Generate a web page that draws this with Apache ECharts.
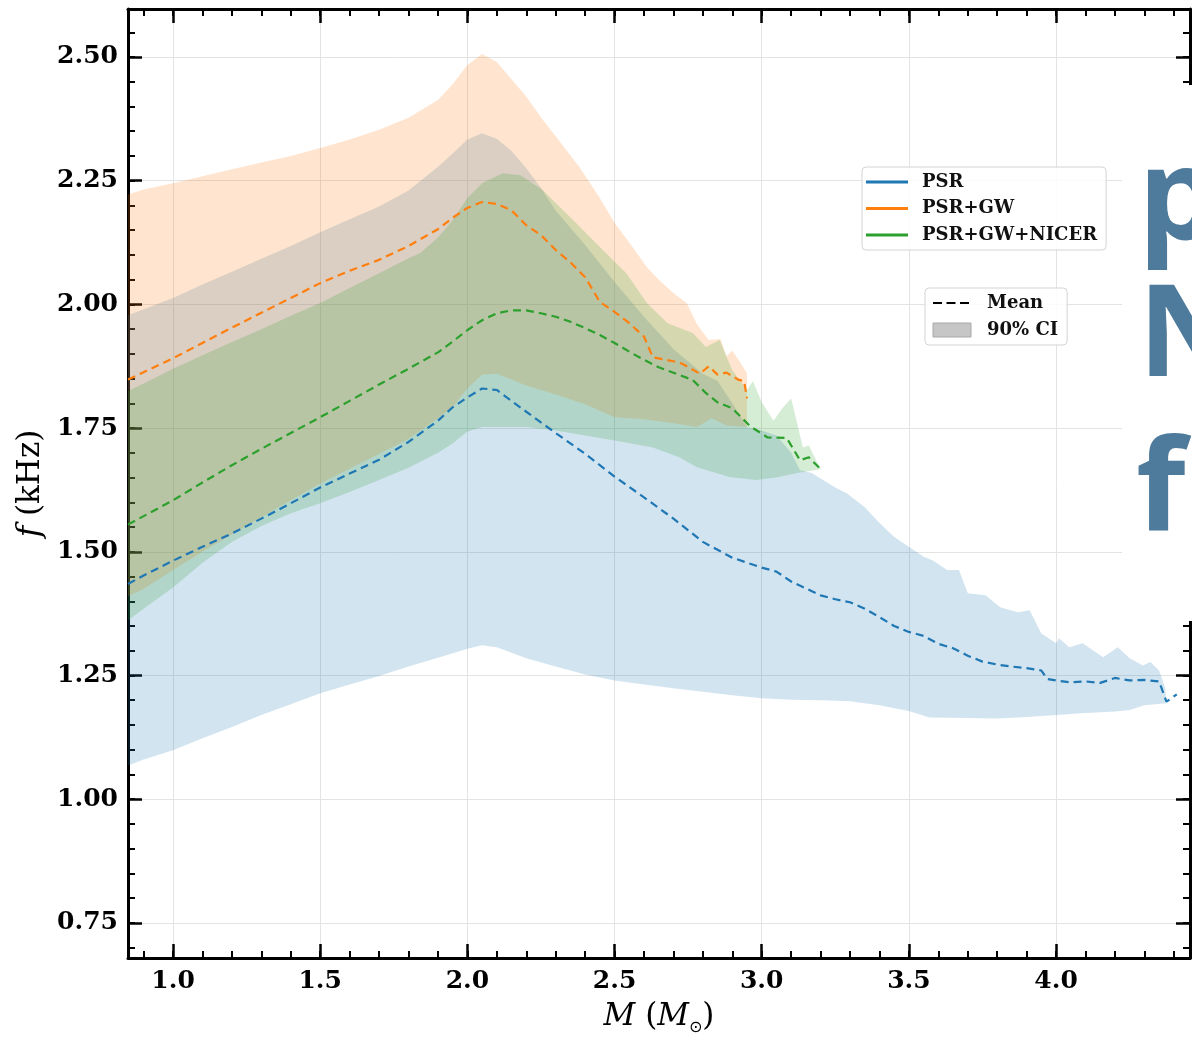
<!DOCTYPE html>
<html><head><meta charset="utf-8">
<script src="https://cdn.jsdelivr.net/npm/echarts@6/dist/echarts.min.js"></script>
<style>html,body{margin:0;padding:0;background:#fff}#c{width:1192px;height:1041px}</style>
</head><body><div id="c"></div><script>
// ---- data ----
const xMajorTicks = [1.0, 1.5, 2.0, 2.5, 3.0, 3.5, 4.0];
const yMajorTicks = [0.75, 1.00, 1.25, 1.50, 1.75, 2.00, 2.25, 2.50];
const xMinorStep = 0.1, yMinorStep = 0.05;
const xRange = [0.847, 4.455];
const yRange = [0.679, 2.597];
const seriesNames = ['PSR', 'PSR+GW', 'PSR+GW+NICER'];
const styleNames = ['Mean', '90% CI'];
const sideLetters = ['p', 'N', 'f'];

const psrMean = [[0.847,1.435],[0.9,1.452],[1.0,1.482],[1.1,1.510],[1.2,1.537],[1.3,1.567],[1.4,1.598],[1.5,1.630],[1.6,1.658],[1.7,1.686],[1.8,1.722],[1.9,1.765],[1.95,1.792],[2.0,1.812],[2.05,1.830],[2.1,1.827],[2.15,1.805],[2.2,1.783],[2.3,1.740],[2.4,1.698],[2.5,1.652],[2.6,1.610],[2.7,1.567],[2.8,1.520],[2.9,1.488],[3.0,1.468],[3.05,1.460],[3.1,1.440],[3.2,1.412],[3.25,1.404],[3.3,1.398],[3.35,1.385],[3.4,1.368],[3.45,1.350],[3.5,1.338],[3.55,1.330],[3.6,1.314],[3.65,1.305],[3.7,1.290],[3.75,1.278],[3.8,1.272],[3.85,1.268],[3.9,1.265],[3.95,1.260],[3.97,1.243],[4.0,1.240],[4.05,1.236],[4.1,1.238],[4.15,1.235],[4.2,1.245],[4.25,1.240],[4.3,1.241],[4.35,1.238],[4.375,1.197],[4.41,1.212]];
const psrUpper = [[0.847,1.978],[0.9,1.990],[1.0,2.013],[1.1,2.040],[1.2,2.066],[1.3,2.092],[1.4,2.118],[1.5,2.146],[1.6,2.172],[1.7,2.198],[1.8,2.230],[1.9,2.278],[1.95,2.305],[2.0,2.333],[2.05,2.346],[2.1,2.335],[2.15,2.310],[2.2,2.275],[2.25,2.235],[2.3,2.190],[2.4,2.120],[2.5,2.045],[2.6,1.975],[2.7,1.910],[2.8,1.860],[2.85,1.845],[2.9,1.800],[2.95,1.752],[3.0,1.745],[3.05,1.735],[3.1,1.700],[3.13,1.665],[3.17,1.659],[3.2,1.648],[3.25,1.630],[3.29,1.618],[3.35,1.590],[3.4,1.558],[3.45,1.530],[3.5,1.510],[3.55,1.490],[3.58,1.483],[3.63,1.463],[3.67,1.463],[3.7,1.416],[3.76,1.412],[3.81,1.388],[3.87,1.378],[3.91,1.382],[3.95,1.335],[4.0,1.315],[4.01,1.325],[4.045,1.307],[4.09,1.315],[4.16,1.287],[4.21,1.307],[4.25,1.285],[4.295,1.270],[4.32,1.277],[4.35,1.260],[4.37,1.226],[4.375,1.196]];
const psrLower = [[0.847,1.068],[0.9,1.080],[1.0,1.099],[1.1,1.123],[1.2,1.146],[1.3,1.170],[1.4,1.192],[1.5,1.214],[1.6,1.232],[1.7,1.249],[1.8,1.268],[1.9,1.286],[2.0,1.304],[2.05,1.311],[2.1,1.307],[2.2,1.285],[2.3,1.268],[2.4,1.252],[2.5,1.240],[2.6,1.232],[2.7,1.224],[2.8,1.217],[2.9,1.210],[3.0,1.204],[3.1,1.201],[3.2,1.200],[3.3,1.198],[3.4,1.190],[3.5,1.178],[3.57,1.165],[3.7,1.164],[3.8,1.163],[3.9,1.166],[4.0,1.170],[4.1,1.174],[4.2,1.177],[4.25,1.180],[4.3,1.190],[4.375,1.194]];

const gwMean = [[0.847,1.848],[0.9,1.863],[1.0,1.891],[1.1,1.922],[1.2,1.953],[1.3,1.983],[1.4,2.013],[1.5,2.043],[1.6,2.068],[1.7,2.090],[1.8,2.118],[1.9,2.152],[1.95,2.175],[2.0,2.195],[2.05,2.207],[2.1,2.203],[2.15,2.190],[2.2,2.160],[2.25,2.140],[2.3,2.110],[2.35,2.085],[2.4,2.055],[2.45,2.005],[2.5,1.985],[2.55,1.962],[2.6,1.935],[2.63,1.893],[2.7,1.885],[2.73,1.880],[2.76,1.870],[2.79,1.860],[2.82,1.875],[2.85,1.858],[2.88,1.862],[2.92,1.848],[2.94,1.845],[2.95,1.810]];
const gwUpper = [[0.847,2.222],[0.9,2.232],[1.0,2.245],[1.1,2.259],[1.2,2.273],[1.3,2.287],[1.4,2.300],[1.5,2.316],[1.6,2.333],[1.7,2.353],[1.8,2.377],[1.9,2.413],[1.95,2.445],[2.0,2.484],[2.05,2.506],[2.1,2.490],[2.15,2.455],[2.2,2.420],[2.256,2.373],[2.3,2.340],[2.38,2.278],[2.45,2.215],[2.5,2.165],[2.55,2.125],[2.61,2.075],[2.65,2.050],[2.7,2.023],[2.745,2.003],[2.78,1.960],[2.82,1.928],[2.86,1.930],[2.88,1.895],[2.9,1.907],[2.93,1.880],[2.95,1.861]];
const gwLower = [[0.847,1.410],[0.9,1.425],[1.0,1.463],[1.1,1.500],[1.2,1.535],[1.3,1.570],[1.4,1.604],[1.5,1.638],[1.6,1.668],[1.7,1.698],[1.8,1.728],[1.9,1.770],[1.95,1.792],[2.0,1.830],[2.05,1.858],[2.1,1.860],[2.2,1.836],[2.3,1.818],[2.4,1.798],[2.5,1.772],[2.6,1.768],[2.7,1.760],[2.78,1.752],[2.83,1.770],[2.88,1.755],[2.95,1.752]];

const nicerMean = [[0.847,1.555],[0.9,1.572],[1.0,1.604],[1.1,1.640],[1.2,1.675],[1.3,1.708],[1.4,1.740],[1.5,1.772],[1.6,1.805],[1.7,1.838],[1.8,1.870],[1.9,1.903],[1.95,1.925],[2.0,1.948],[2.05,1.968],[2.1,1.982],[2.15,1.988],[2.2,1.988],[2.25,1.982],[2.3,1.975],[2.35,1.965],[2.4,1.952],[2.45,1.938],[2.5,1.922],[2.56,1.901],[2.6,1.888],[2.65,1.873],[2.7,1.862],[2.766,1.847],[2.81,1.821],[2.85,1.802],[2.9,1.790],[2.96,1.754],[3.02,1.731],[3.085,1.730],[3.13,1.685],[3.16,1.691],[3.2,1.667]];
const nicerUpper = [[0.847,1.825],[0.9,1.840],[1.0,1.870],[1.1,1.897],[1.2,1.924],[1.3,1.950],[1.4,1.977],[1.5,2.003],[1.6,2.033],[1.7,2.063],[1.8,2.093],[1.84,2.104],[1.9,2.135],[1.95,2.170],[2.0,2.215],[2.05,2.245],[2.12,2.265],[2.18,2.261],[2.256,2.231],[2.3,2.205],[2.36,2.170],[2.45,2.116],[2.54,2.063],[2.61,2.003],[2.68,1.962],[2.766,1.942],[2.81,1.914],[2.857,1.928],[2.9,1.867],[2.95,1.827],[2.97,1.845],[3.0,1.802],[3.04,1.765],[3.07,1.790],[3.1,1.810],[3.12,1.760],[3.14,1.711],[3.16,1.715],[3.19,1.679],[3.2,1.669]];
const nicerLower = [[0.847,1.361],[0.9,1.385],[1.0,1.428],[1.1,1.478],[1.16,1.503],[1.2,1.520],[1.3,1.552],[1.4,1.578],[1.5,1.598],[1.6,1.621],[1.7,1.645],[1.8,1.670],[1.9,1.700],[1.95,1.719],[2.0,1.743],[2.05,1.752],[2.2,1.752],[2.3,1.745],[2.4,1.735],[2.5,1.725],[2.63,1.711],[2.72,1.691],[2.78,1.671],[2.89,1.651],[2.98,1.645],[3.05,1.650],[3.12,1.659],[3.2,1.667]];

// ---- styling / layout ----
const colors = ['#1f77b4', '#ff7f0e', '#2ca02c'];
const SERIF = 'DejaVu Serif';
const G = { left: 128, top: 9, width: 1062, height: 949 };
function px(m) { return G.left + (m - xRange[0]) / (xRange[1] - xRange[0]) * G.width; }
function py(f) { return G.top + (yRange[1] - f) / (yRange[1] - yRange[0]) * G.height; }
function rgba(hex, a) {
  const n = parseInt(hex.slice(1), 16);
  return 'rgba(' + (n >> 16) + ',' + ((n >> 8) & 255) + ',' + (n & 255) + ',' + a + ')';
}
const r2 = v => Math.round(v * 1000) / 1000;
const xMinMin = r2(Math.ceil(xRange[0] / xMinorStep - 1e-9) * xMinorStep);
const xMinMax = r2(Math.floor(xRange[1] / xMinorStep + 1e-9) * xMinorStep);
const yMinMin = r2(Math.ceil(yRange[0] / yMinorStep - 1e-9) * yMinorStep);
const yMinMax = r2(Math.floor(yRange[1] / yMinorStep + 1e-9) * yMinorStep);
const xMajMin = xMajorTicks[0], xMajMax = xMajorTicks[xMajorTicks.length - 1];
const yMajMin = yMajorTicks[0], yMajMax = yMajorTicks[yMajorTicks.length - 1];
const xMajStep = xMajorTicks[1] - xMajorTicks[0];
const yMajStep = yMajorTicks[1] - yMajorTicks[0];

const grids = [
  { left: G.left, top: G.top, width: G.width, height: G.height },                                  // 0 data
  { left: px(xMajMin), top: G.top, width: px(xMajMax) - px(xMajMin), height: G.height },           // 1 x major
  { left: G.left, top: py(yMajMax), width: G.width, height: py(yMajMin) - py(yMajMax) },           // 2 y major
  { left: px(xMinMin), top: G.top, width: px(xMinMax) - px(xMinMin), height: G.height },           // 3 x minor
  { left: G.left, top: py(yMinMax), width: G.width, height: py(yMinMin) - py(yMinMax) }            // 4 y minor
];
const spine = { show: true, onZero: false, lineStyle: { color: '#000', width: 3 } };
const noLine = { show: false, onZero: false };
const majTick = { show: true, inside: true, length: 14, lineStyle: { color: '#000', width: 2.5 } };
const minTick = { show: true, inside: true, length: 7, lineStyle: { color: '#000', width: 2 } };
const gridLine = { show: true, lineStyle: { color: '#e3e3e3', width: 1 } };
const tickFont = { fontFamily: SERIF, fontWeight: 'bold', fontSize: 25, color: '#000' };
const nameRich = {
  n: { fontFamily: SERIF, fontSize: 31, color: '#000', lineHeight: 38 },
  i: { fontFamily: SERIF, fontStyle: 'italic', fontSize: 31, color: '#000', lineHeight: 38 },
  s: { fontFamily: 'DejaVu Sans', fontSize: 16, color: '#000', lineHeight: 23, verticalAlign: 'bottom' }
};

const xAxis = [
  { gridIndex: 0, type: 'value', position: 'bottom', min: xRange[0], max: xRange[1], axisLine: spine, axisTick: { show: false }, axisLabel: { show: false }, splitLine: { show: false },
    name: '{i|M}{n|\u00a0(}{i|M}{s|⊙}{n|)}', nameLocation: 'middle', nameGap: 40, nameTextStyle: { rich: nameRich } },
  { gridIndex: 0, type: 'value', position: 'top', min: xRange[0], max: xRange[1], axisLine: spine, axisTick: { show: false }, axisLabel: { show: false }, splitLine: { show: false } },
  { gridIndex: 1, type: 'value', position: 'bottom', min: xMajMin, max: xMajMax, interval: xMajStep, axisLine: noLine, axisTick: majTick,
    axisLabel: Object.assign({ margin: 11, formatter: v => v.toFixed(1) }, tickFont), splitLine: gridLine },
  { gridIndex: 1, type: 'value', position: 'top', min: xMajMin, max: xMajMax, interval: xMajStep, axisLine: noLine, axisTick: majTick, axisLabel: { show: false }, splitLine: { show: false } },
  { gridIndex: 2, type: 'value', show: false, min: xRange[0], max: xRange[1] },
  { gridIndex: 3, type: 'value', position: 'bottom', min: xMinMin, max: xMinMax, interval: xMinorStep, axisLine: noLine, axisTick: minTick, axisLabel: { show: false }, splitLine: { show: false } },
  { gridIndex: 3, type: 'value', position: 'top', min: xMinMin, max: xMinMax, interval: xMinorStep, axisLine: noLine, axisTick: minTick, axisLabel: { show: false }, splitLine: { show: false } },
  { gridIndex: 4, type: 'value', show: false, min: xRange[0], max: xRange[1] }
];
const yAxis = [
  { gridIndex: 0, type: 'value', position: 'left', min: yRange[0], max: yRange[1], axisLine: spine, axisTick: { show: false }, axisLabel: { show: false }, splitLine: { show: false },
    name: '{i|f}{n|\u00a0(kHz)}', nameLocation: 'middle', nameRotate: 90, nameGap: 78, nameTextStyle: { rich: nameRich } },
  { gridIndex: 0, type: 'value', position: 'right', min: yRange[0], max: yRange[1], axisLine: spine, axisTick: { show: false }, axisLabel: { show: false }, splitLine: { show: false } },
  { gridIndex: 1, type: 'value', show: false, min: yRange[0], max: yRange[1] },
  { gridIndex: 2, type: 'value', position: 'left', min: yMajMin, max: yMajMax, interval: yMajStep, axisLine: noLine, axisTick: majTick,
    axisLabel: Object.assign({ margin: 10, formatter: v => v.toFixed(2) }, tickFont), splitLine: gridLine },
  { gridIndex: 2, type: 'value', position: 'right', min: yMajMin, max: yMajMax, interval: yMajStep, axisLine: noLine, axisTick: majTick, axisLabel: { show: false }, splitLine: { show: false } },
  { gridIndex: 3, type: 'value', show: false, min: yRange[0], max: yRange[1] },
  { gridIndex: 4, type: 'value', position: 'left', min: yMinMin, max: yMinMax, interval: yMinorStep, axisLine: noLine, axisTick: minTick, axisLabel: { show: false }, splitLine: { show: false } },
  { gridIndex: 4, type: 'value', position: 'right', min: yMinMin, max: yMinMax, interval: yMinorStep, axisLine: noLine, axisTick: minTick, axisLabel: { show: false }, splitLine: { show: false } }
];

function band(name, upper, lower, color) {
  const pts = upper.concat(lower.slice().reverse());
  return {
    type: 'custom', name: name, xAxisIndex: 0, yAxisIndex: 0, z: 2, silent: true,
    data: pts, encode: { x: 0, y: 1 },
    renderItem: function (params, api) {
      if (params.dataIndex !== 0) return null;
      return { type: 'polygon', shape: { points: pts.map(p => api.coord(p)) }, style: { fill: rgba(color, 0.2), stroke: null } };
    }
  };
}
function meanLine(name, data, color) {
  return {
    type: 'line', name: name, xAxisIndex: 0, yAxisIndex: 0, z: 5, data: data, symbol: 'none', silent: true,
    color: color, itemStyle: { color: color },
    lineStyle: { color: color, width: 2.2, type: [8, 5] }
  };
}

const series = [
  band('PSR CI', psrUpper, psrLower, colors[0]),
  band('PSR+GW CI', gwUpper, gwLower, colors[1]),
  band('PSR+GW+NICER CI', nicerUpper, nicerLower, colors[2]),
  meanLine(seriesNames[0], psrMean, colors[0]),
  meanLine(seriesNames[1], gwMean, colors[1]),
  meanLine(seriesNames[2], nicerMean, colors[2]),
  { type: 'line', name: styleNames[0], data: [], symbol: 'none', color: '#000', lineStyle: { color: '#000', width: 2, type: [9, 4.5] } },
  { type: 'line', name: styleNames[1], data: [], symbol: 'none', color: '#c6c6c6' }
];

const legendText = { fontFamily: SERIF, fontWeight: 'bold', fontSize: 18, color: '#111', lineHeight: 20, padding: [0, 0, 0, 9] };
const legendBox = { backgroundColor: 'rgba(255,255,255,0.85)', borderColor: '#d4d4d4', borderWidth: 1, borderRadius: 4 };
const legend = [
  Object.assign({ orient: 'vertical', left: 862, top: 167, padding: [5, 9, 5, 4], itemGap: 6.5, itemWidth: 42, itemHeight: 3, icon: 'rect',
    data: seriesNames, selectedMode: false, textStyle: legendText }, legendBox),
  Object.assign({ orient: 'vertical', left: 925, top: 288, padding: [5, 9, 5, 7], itemGap: 7, itemWidth: 38, itemHeight: 14,
    data: [
      { name: styleNames[0], itemStyle: { opacity: 0 }, lineStyle: { color: '#000', width: 2, type: [9, 4.5] } },
      { name: styleNames[1], icon: 'rect', itemStyle: { color: '#c6c6c6', borderColor: '#a8a8a8', borderWidth: 1 } }
    ],
    selectedMode: false, textStyle: Object.assign({}, legendText, { padding: [0, 0, 0, 11] }) }, legendBox)
];

const letterFont = '700 128px "Open Sans"';
const letterColor = '#4e7b9c';
const graphic = [
  { type: 'rect', z: 100, shape: { x: 1122, y: 85, width: 80, height: 536 }, style: { fill: '#fff' } },
  { type: 'text', z: 101, x: 1138, y: 203, style: { text: sideLetters[0], font: letterFont, fill: letterColor, verticalAlign: 'middle' } },
  { type: 'text', z: 101, x: 1138, y: 340, style: { text: sideLetters[1], font: letterFont, fill: letterColor, verticalAlign: 'middle' } },
  { type: 'text', z: 101, x: 1136, y: 494, style: { text: sideLetters[2], font: letterFont, fill: letterColor, verticalAlign: 'middle' } }
];

const chart = echarts.init(document.getElementById('c'), null, { renderer: 'canvas' });
chart.setOption({
  animation: false,
  backgroundColor: '#fff',
  grid: grids, xAxis: xAxis, yAxis: yAxis,
  legend: legend, series: series, graphic: graphic
});
</script></body></html>
